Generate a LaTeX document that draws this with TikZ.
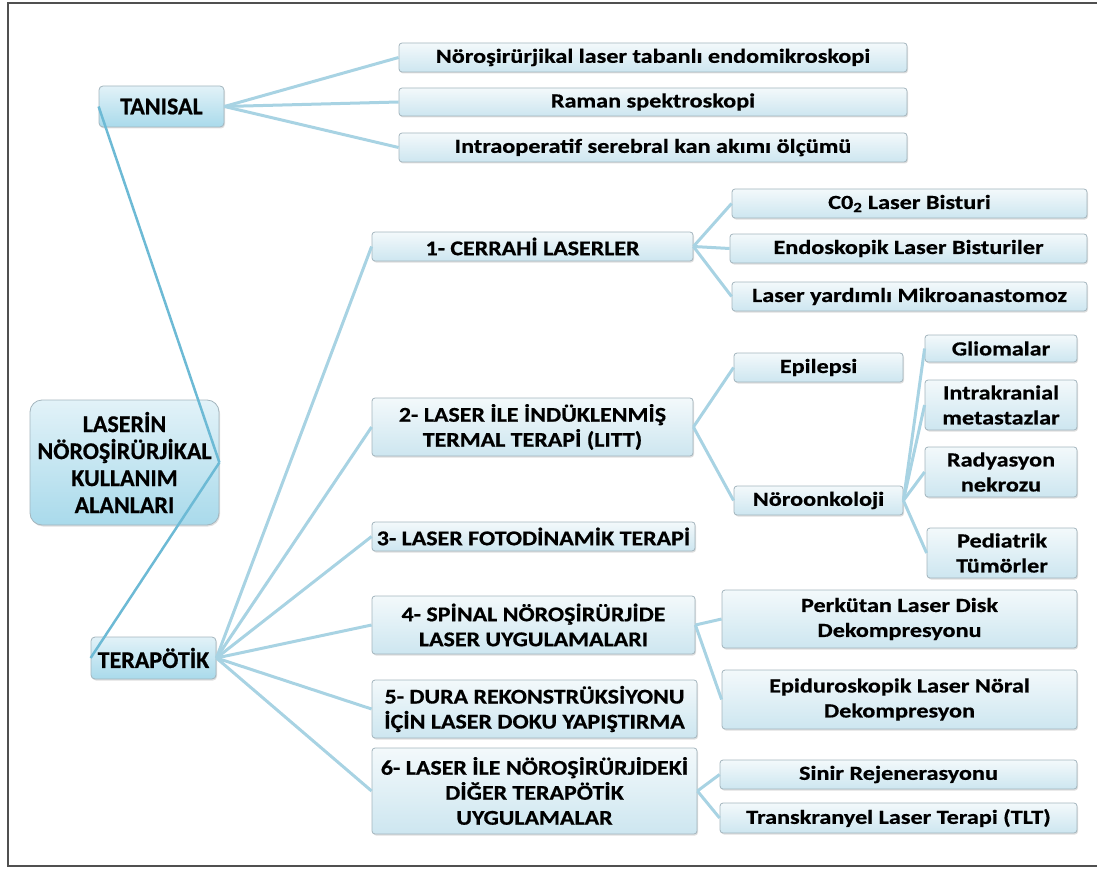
\documentclass[tikz,border=0pt]{standalone}
\usepackage{fontspec}
\setmainfont{Carlito}[BoldFeatures={FakeBold=0.6}]
\newfontfamily\midfont{Carlito}[FakeStretch=1.14, BoldFeatures={FakeBold=0.6}]
\newfontfamily\leaffont{Carlito}[FakeStretch=1.21, BoldFeatures={FakeBold=0.6}]
\usetikzlibrary{shadows}
\definecolor{mtop}{HTML}{E2F2F8}
\definecolor{mbot}{HTML}{A9DAEB}
\definecolor{ltop}{HTML}{F3F9FB}
\definecolor{lbot}{HTML}{CDE6F0}
\definecolor{bord}{HTML}{A3B5BD}
\definecolor{conn}{HTML}{A8D3E3}
\definecolor{rconn}{HTML}{6DBAD5}
\definecolor{frame}{HTML}{505050}
\tikzset{
  basebox/.style={draw=bord, line width=0.8pt, align=center, inner sep=0pt,
    drop shadow={shadow xshift=1pt, shadow yshift=-1.5pt, opacity=0.25}},
  mainbox/.style={basebox, rounded corners=4pt, top color=mtop, bottom color=mbot,
    font=\bfseries\fontsize{24}{27}\selectfont},
  rootbox/.style={mainbox, rounded corners=12pt},
  midbox/.style={basebox, rounded corners=3pt, top color=ltop, bottom color=lbot,
    font=\midfont\bfseries\fontsize{21}{25}\selectfont},
  leafbox/.style={basebox, rounded corners=3pt, top color=ltop, bottom color=lbot,
    font=\leaffont\bfseries\fontsize{20}{25}\selectfont},
  link/.style={draw=conn, line width=3pt},
  rlink/.style={draw=rconn, line width=2.5pt},
}
\newcommand\bx[7]{\node[#6, minimum width={(#4-#2)*1pt}, minimum height={(#5-#3)*1pt}] (#1) at ({(#2+#4)/2},{(#3+#5)/2}) {#7};}
\begin{document}
\begin{tikzpicture}[x=1pt,y=-1pt]
\useasboundingbox (0,0) rectangle (1097,869);
\coordinate (fa) at (1097,3);
\coordinate (fb) at (8,3);
\coordinate (fc) at (8,866);
\coordinate (fd) at (1097,866);
\draw[frame, line width=2pt] (fa) -- (fb) -- (fc) -- (fd);
% nodes
\bx{tan}{99}{86}{224}{127}{mainbox}{TANISAL}
\bx{d1}{399}{43}{907}{72}{leafbox}{Nöroşirürjikal laser tabanlı endomikroskopi}
\bx{d2}{399}{88}{907}{116}{leafbox}{Raman spektroskopi}
\bx{d3}{399}{133}{907}{162}{leafbox}{Intraoperatif serebral kan akımı ölçümü}
\bx{root}{30}{400}{219}{525}{rootbox}{LASERİN\\NÖROŞİRÜRJİKAL\\KULLANIM\\ALANLARI}
\bx{ter}{91}{637}{216}{679}{mainbox}{TERAPÖTİK}
\bx{t1}{372}{232}{693}{261}{midbox}{1- CERRAHİ LASERLER}
\bx{c1}{732}{189}{1087}{218}{leafbox}{C0\textsubscript{2} Laser Bisturi}
\bx{c2}{730}{234}{1087}{263}{leafbox}{Endoskopik Laser Bisturiler}
\bx{c3}{732}{282}{1087}{311}{leafbox}{Laser yardımlı Mikroanastomoz}
\bx{t2}{372}{398}{693}{456}{midbox}{2- LASER İLE İNDÜKLENMİŞ\\TERMAL TERAPİ (LITT)}
\bx{ep}{734}{353}{903}{382}{leafbox}{Epilepsi}
\bx{no}{734}{486}{903}{515}{leafbox}{Nöroonkoloji}
\bx{g1}{925}{335}{1077}{362}{leafbox}{Gliomalar}
\bx{g2}{925}{380}{1077}{430}{leafbox}{Intrakranial\\metastazlar}
\bx{g3}{925}{447}{1077}{497}{leafbox}{Radyasyon\\nekrozu}
\bx{g4}{927}{528}{1077}{578}{leafbox}{Pediatrik\\Tümörler}
\bx{t3}{372}{522}{695}{551}{midbox}{3- LASER FOTODİNAMİK TERAPİ}
\bx{t4}{372}{596}{695}{654}{midbox}{4- SPİNAL NÖROŞİRÜRJİDE\\LASER UYGULAMALARI}
\bx{p1}{722}{590}{1077}{648}{leafbox}{Perkütan Laser Disk\\Dekompresyonu}
\bx{t5}{372}{680}{697}{738}{midbox}{5- DURA REKONSTRÜKSİYONU\\İÇİN LASER DOKU YAPIŞTIRMA}
\bx{p2}{722}{670}{1077}{729}{leafbox}{Epiduroskopik Laser Nöral\\Dekompresyon}
\bx{t6}{372}{748}{697}{834}{midbox}{6- LASER İLE NÖROŞİRÜRJİDEKİ\\DİĞER TERAPÖTİK\\UYGULAMALAR}
\bx{s1}{720}{760}{1077}{789}{leafbox}{Sinir Rejenerasyonu}
\bx{s2}{720}{803}{1077}{833}{leafbox}{Transkranyel Laser Terapi (TLT)}
% links
\foreach \a/\b in {tan/d1,tan/d2,tan/d3,ter/t1,ter/t2,ter/t3,ter/t4,ter/t5,ter/t6,
  t1/c1,t1/c2,t1/c3,t2/ep,t2/no,no/g1,no/g2,no/g3,no/g4,t4/p1,t4/p2,t6/s1,t6/s2}
  \draw[link] (\a.east) -- (\b.west);
\draw[rlink] (root.east) -- (tan.west);
\draw[rlink] (root.east) -- (ter.west);
\end{tikzpicture}
\end{document}
